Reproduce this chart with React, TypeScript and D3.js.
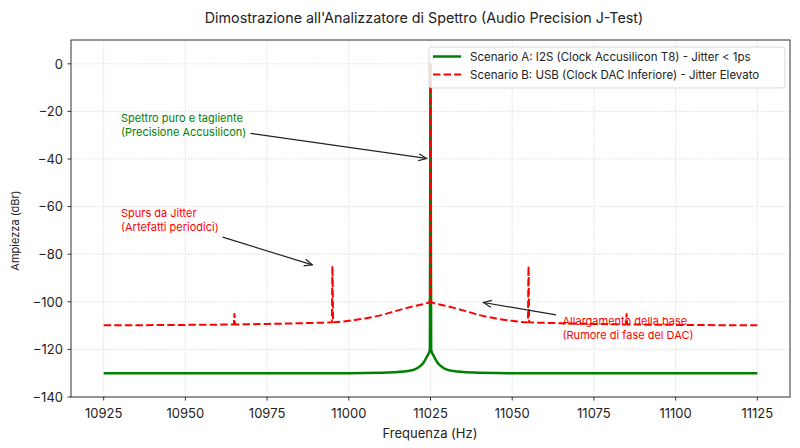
import * as d3 from "d3";

const WIDTH = 800;
const HEIGHT = 448;
const FONT = "Inter, 'Noto Sans', sans-serif";

// Scenario A: I2S, clean clock (dBr)
const freqA = [
  10925, 11000, 11010, 11015, 11018, 11020, 11022, 11023, 11024, 11024.8, 11025,
  11025.2, 11026, 11027, 11028, 11030, 11032, 11035, 11040, 11050, 11125,
];
const levelA = [
  -130, -130, -129.8, -129.5, -129.1, -128.5, -126.8, -125.3, -122.8, -120.3, 0,
  -120.3, -122.8, -125.3, -126.8, -128.5, -129.1, -129.5, -129.8, -130, -130,
];

// Scenario B: USB, jittery clock (dBr)
const freqB = [
  10925, 10950, 10964.8, 10965, 10965.2, 10975, 10985, 10994.8, 10995, 10995.2,
  11000, 11005, 11010, 11015, 11020, 11024.8, 11025, 11025.2, 11030, 11035, 11040,
  11045, 11050, 11054.8, 11055, 11055.2, 11065, 11075, 11084.8, 11085, 11085.2,
  11100, 11125,
];
const levelB = [
  -109.9, -109.7, -109.5, -105, -109.5, -109.3, -109, -108.6, -85, -108.6,
  -108, -107, -105.6, -103.6, -101.8, -100, 0, -100, -101.8, -103.6, -105.6,
  -107, -108, -108.6, -85, -108.6, -109, -109.3, -109.5, -105, -109.5,
  -109.7, -109.9,
];

const xTicks = [10925, 10950, 10975, 11000, 11025, 11050, 11075, 11100, 11125];
const yTicks = [0, -20, -40, -60, -80, -100, -120, -140];

const legendLabels = [
  "Scenario A: I2S (Clock Accusilicon T8) - Jitter < 1ps",
  "Scenario B: USB (Clock DAC Inferiore) - Jitter Elevato",
];

const noteText = [
  ["Spettro puro e tagliente", "(Precisione Accusilicon)"],
  ["Spurs da Jitter", "(Artefatti periodici)"],
  ["Allargamento della base", "(Rumore di fase del DAC)"],
];
const noteColors = ["green", "red", "red"];
const noteAt = [
  [10930.3, -22.8],
  [10930.3, -62.8],
  [11065.4, -108],
];
const arrowFrom = [
  [10969.9, -29.2],
  [10961.4, -72.8],
  [11063.4, -105.5],
];
const arrowTo = [
  [11025, -40],
  [10990, -85],
  [11040, -100],
];

const left = 71;
const right = 790;
const top = 40;
const bottom = 397;

export default function App() {
  const x = d3.scaleLinear().domain([10915, 11135]).range([left, right]);
  const y = d3.scaleLinear().domain([-140, 10]).range([bottom, top]);

  const lineA = d3
    .line<number>()
    .curve(d3.curveMonotoneX)
    .x((_, i) => x(freqA[i]))
    .y((d) => y(d));
  const lineB = d3
    .line<number>()
    .curve(d3.curveMonotoneX)
    .x((_, i) => x(freqB[i]))
    .y((d) => y(d));

  const arrows = arrowTo.map((to, i) => {
    const x0 = x(arrowFrom[i][0]);
    const y0 = y(arrowFrom[i][1]);
    let x1 = x(to[0]);
    let y1 = y(to[1]);
    const len = Math.hypot(x1 - x0, y1 - y0);
    const ux = (x1 - x0) / len;
    const uy = (y1 - y0) / len;
    // stop a little short of the target
    x1 -= ux * 4;
    y1 -= uy * 4;
    const hl = 8;
    const hw = 3.5;
    const bx = x1 - ux * hl;
    const by = y1 - uy * hl;
    const head = `M${bx - uy * hw},${by + ux * hw}L${x1},${y1}L${bx + uy * hw},${by - ux * hw}`;
    return { x0, y0, x1, y1, head };
  });

  return (
    <svg
      width={WIDTH}
      height={HEIGHT}
      style={{ position: "absolute", left: 0, top: 0, background: "#fff" }}
      fontFamily={FONT}
    >
      <rect width={WIDTH} height={HEIGHT} fill="#fff" />
      <text x={424} y={23} textAnchor="middle" fontSize={14.3} fill="#222">
        Dimostrazione all'Analizzatore di Spettro (Audio Precision J-Test)
      </text>

      {/* grid */}
      <g stroke="#c8c8c8" strokeWidth={0.8} strokeDasharray="1,1.6">
        {xTicks.map((t) => (
          <line key={"gx" + t} x1={x(t)} x2={x(t)} y1={top} y2={bottom} />
        ))}
        {yTicks.map((t) => (
          <line key={"gy" + t} x1={left} x2={right} y1={y(t)} y2={y(t)} />
        ))}
      </g>

      <path d={lineA(levelA) ?? ""} fill="none" stroke="green" strokeWidth={2.5} />
      <path
        d={lineB(levelB) ?? ""}
        fill="none"
        stroke="red"
        strokeWidth={2}
        strokeDasharray="7.4,3.2"
      />

      {/* spines */}
      <rect x={left} y={top} width={right - left} height={bottom - top} fill="none" stroke="#333" strokeWidth={1} />

      {/* ticks */}
      <g fontSize={13} fill="#222">
        {xTicks.map((t) => (
          <g key={"tx" + t}>
            <line x1={x(t)} x2={x(t)} y1={bottom} y2={bottom + 3.5} stroke="#333" />
            <text x={x(t)} y={bottom + 21} textAnchor="middle">
              {t}
            </text>
          </g>
        ))}
        {yTicks.map((t) => (
          <g key={"ty" + t}>
            <line x1={left - 3.5} x2={left} y1={y(t)} y2={y(t)} stroke="#333" />
            <text x={left - 8} y={y(t) + 4.7} textAnchor="end">
              {t === 0 ? "0" : "\u2212" + Math.abs(t)}
            </text>
          </g>
        ))}
      </g>

      <text x={430} y={437.5} textAnchor="middle" fontSize={13} fill="#222">
        Frequenza (Hz)
      </text>
      <text
        transform={`translate(19,${(top + bottom) / 2 + 12}) rotate(-90)`}
        textAnchor="middle"
        fontSize={11}
        fill="#222"
      >
        Ampiezza (dBr)
      </text>

      {/* annotations */}
      {noteText.map((lines, i) => (
        <text key={"n" + i} fontSize={11} fill={noteColors[i]}>
          {lines.map((s, j) => (
            <tspan key={j} x={x(noteAt[i][0])} y={y(noteAt[i][1]) + 4 + j * 14}>
              {s}
            </tspan>
          ))}
        </text>
      ))}
      <g stroke="#222" strokeWidth={1.2} fill="none">
        {arrows.map((a, i) => (
          <g key={"a" + i}>
            <line x1={a.x0} y1={a.y0} x2={a.x1} y2={a.y1} />
            <path d={a.head} />
          </g>
        ))}
      </g>

      {/* legend */}
      <rect x={429} y={47} width={356} height={41} rx={3} fill="#fff" fillOpacity={0.85} stroke="#d8d8d8" />
      <line x1={433} x2={461} y1={56.5} y2={56.5} stroke="green" strokeWidth={2.5} />
      <line x1={433} x2={461} y1={74.5} y2={74.5} stroke="red" strokeWidth={2} strokeDasharray="7.4,3.2" />
      <g fontSize={11.5} fill="#222">
        {legendLabels.map((s, i) => (
          <text key={s} x={470} y={60.8 + i * 18}>
            {s}
          </text>
        ))}
      </g>
    </svg>
  );
}
